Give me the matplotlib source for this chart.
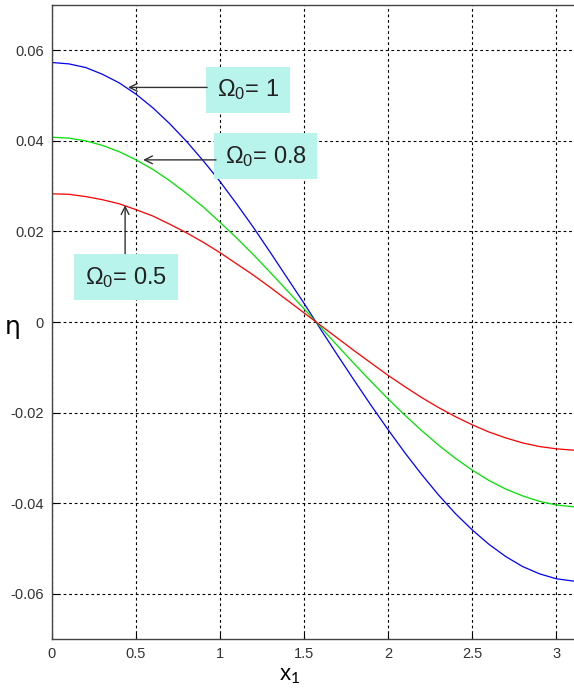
import numpy as np
import matplotlib
matplotlib.use('Agg')
import matplotlib.pyplot as plt

# --- データ ---
x1 = [0.0, 0.1, 0.2, 0.3, 0.4, 0.5, 0.6, 0.7, 0.8, 0.9, 1.0, 1.1, 1.2, 1.3, 1.4,
      1.5, 1.6, 1.7, 1.8, 1.9, 2.0, 2.1, 2.2, 2.3, 2.4, 2.5, 2.6, 2.7, 2.8, 2.9,
      3.0, 3.1, 3.14]

eta_omega_1 = [0.0573, 0.0570, 0.0562, 0.0547, 0.0528, 0.0503, 0.0473, 0.0438,
               0.0399, 0.0356, 0.0310, 0.0260, 0.0208, 0.0153, 0.0097, 0.0041,
               -0.0017, -0.0074, -0.0130, -0.0185, -0.0238, -0.0289, -0.0337,
               -0.0382, -0.0423, -0.0459, -0.0491, -0.0518, -0.0540, -0.0556,
               -0.0567, -0.0572, -0.0573]

eta_omega_08 = [0.0408, 0.0406, 0.0400, 0.0390, 0.0376, 0.0358, 0.0337, 0.0312,
                0.0284, 0.0254, 0.0220, 0.0185, 0.0148, 0.0109, 0.0069, 0.0029,
                -0.0012, -0.0053, -0.0093, -0.0132, -0.0170, -0.0206, -0.0240,
                -0.0272, -0.0301, -0.0327, -0.0350, -0.0369, -0.0384, -0.0396,
                -0.0404, -0.0408, -0.0408]

eta_omega_05 = [0.0283, 0.0282, 0.0277, 0.0270, 0.0261, 0.0248, 0.0234, 0.0216,
                0.0197, 0.0176, 0.0153, 0.0128, 0.0103, 0.0076, 0.0048, 0.0020,
                -0.0008, -0.0036, -0.0064, -0.0091, -0.0118, -0.0143, -0.0167,
                -0.0189, -0.0209, -0.0227, -0.0243, -0.0256, -0.0267, -0.0275,
                -0.0280, -0.0283, -0.0283]

x_ticks = [0, 0.5, 1, 1.5, 2, 2.5, 3]
x_tick_labels = ['0', '0.5', '1', '1.5', '2', '2.5', '3']
y_ticks = [-0.06, -0.04, -0.02, 0, 0.02, 0.04, 0.06]
y_tick_labels = ['-0.06', '-0.04', '-0.02', '0', '0.02', '0.04', '0.06']

labels = ['$\\mathregular{\\Omega_0}$= 1', '$\\mathregular{\\Omega_0}$= 0.8',
          '$\\mathregular{\\Omega_0}$= 0.5']

# --- フォント設定 ---
plt.rcParams['font.family'] = ['Liberation Sans Narrow', 'Liberation Sans', 'DejaVu Sans']
plt.rcParams['mathtext.fontset'] = 'custom'
plt.rcParams['mathtext.rm'] = 'Lato'
plt.rcParams['mathtext.it'] = 'Lato:italic'

fig = plt.figure(figsize=(5.74, 6.92), dpi=100)
ax = fig.add_axes([52 / 574, 53 / 692, 528 / 574, 634 / 692])

ax.plot(x1, eta_omega_1, color='#0000ff', lw=0.9)
ax.plot(x1, eta_omega_08, color='#00e000', lw=0.9)
ax.plot(x1, eta_omega_05, color='#ff0000', lw=0.9)

ax.set_xlim(0, 3.1416)
ax.set_ylim(-0.07, 0.07)
ax.set_xticks(x_ticks)
ax.set_xticklabels(x_tick_labels)
ax.set_yticks(y_ticks)
ax.set_yticklabels(y_tick_labels)
ax.tick_params(direction='in', length=4, width=0.8, labelsize=10.5,
               labelcolor='#333333', pad=6)

# グリッド (MATLAB風の点線)
ax.grid(True, color='black', linestyle=(0, (2.5, 2.5)), linewidth=0.8)
for s in ax.spines.values():
    s.set_color('#444444')
    s.set_linewidth(1.0)

ax.set_xlabel('x$_1$', fontsize=16, family='Liberation Sans', va='center')
ax.xaxis.set_label_coords(238 / 528, -36 / 634)
ax.set_ylabel('η', fontsize=18, family='DejaVu Sans', rotation=0,
              va='center', ha='center')
ax.yaxis.set_label_coords(-39 / 528, 312 / 634)

# --- 注釈 (ラベルボックスと矢印) ---
box_style = dict(boxstyle='square,pad=0.45', facecolor='#b8f4ec', edgecolor='none')
arrow_style = dict(arrowstyle='->', color='#333333', lw=1.0,
                   shrinkA=0, shrinkB=0, mutation_scale=14)

ax.text(1.167, 0.0513, labels[0], fontsize=17, ha='center', va='center',
        bbox=box_style, color='#222222')
ax.annotate('', xy=(0.452, 0.0518), xytext=(0.923, 0.0518), arrowprops=arrow_style)

ax.text(1.271, 0.0366, labels[1], fontsize=17, ha='center', va='center',
        bbox=box_style, color='#222222')
ax.annotate('', xy=(0.542, 0.0358), xytext=(0.976, 0.0358), arrowprops=arrow_style)

ax.text(0.440, 0.0099, labels[2], fontsize=17, ha='center', va='center',
        bbox=box_style, color='#222222')
ax.annotate('', xy=(0.435, 0.0258), xytext=(0.435, 0.0151), arrowprops=arrow_style)

fig.savefig('out.png', dpi=100)
